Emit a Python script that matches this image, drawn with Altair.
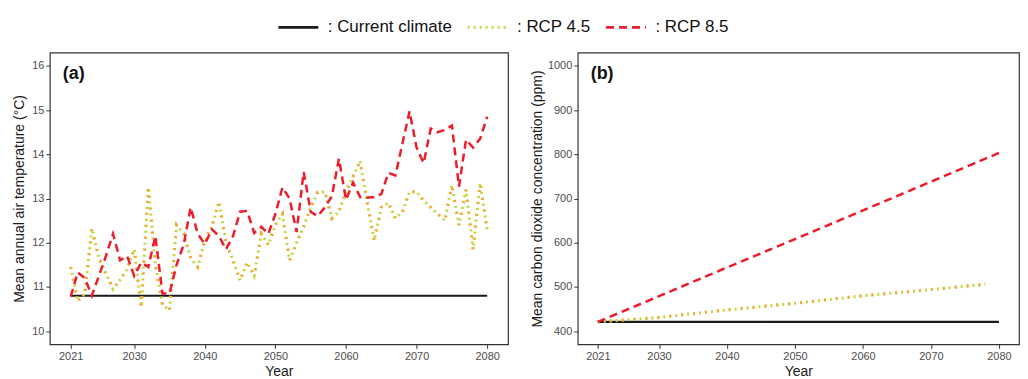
import altair as alt
import pandas as pd

# ---------------- data ----------------
years = list(range(2021, 2081))

rcp45_temp = [11.45, 10.68, 10.85, 12.32, 11.65, 11.30, 10.95, 11.16, 11.40, 11.85,
              10.55, 13.25, 11.50, 10.60, 10.47, 12.40, 12.20, 11.65, 11.45, 12.05,
              12.36, 12.92, 12.00, 11.60, 11.15, 11.55, 11.25, 12.20, 11.95, 12.40,
              12.65, 11.60, 12.00, 12.36, 12.80, 13.14, 13.15, 12.55, 12.70, 13.15,
              13.50, 13.85, 12.90, 12.05, 12.80, 12.90, 12.55, 12.70, 13.15, 13.15,
              12.95, 12.80, 12.65, 12.50, 13.30, 12.40, 13.20, 11.85, 13.35, 12.30]

rcp85_temp = [10.78, 11.33, 11.20, 10.80, 11.25, 11.70, 12.20, 11.60, 11.70, 11.25,
              11.55, 11.45, 12.15, 10.85, 10.85, 11.50, 11.95, 12.80, 12.20, 11.97,
              12.30, 12.15, 11.85, 12.15, 12.70, 12.72, 12.22, 12.36, 12.20, 12.65,
              13.25, 13.00, 12.24, 13.60, 12.70, 12.60, 12.80, 13.05, 13.90, 12.97,
              13.36, 13.03, 13.02, 13.03, 13.10, 13.58, 13.52, 14.25, 14.97, 14.15,
              13.80, 14.58, 14.50, 14.55, 14.65, 13.27, 14.33, 14.15, 14.35, 14.85]

current_years = [2021, 2080]
current_temp = [10.8, 10.8]

co2_current_years = [2021, 2080]
co2_current = [421, 421]
co2_rcp45_years = [2021, 2030, 2040, 2050, 2060, 2070, 2078]
co2_rcp45 = [421, 431, 448, 463, 480, 494, 506]
co2_rcp85_years = [2021, 2030, 2040, 2050, 2060, 2070, 2080]
co2_rcp85 = [421, 479, 544, 608, 673, 738, 803]

series = [": Current climate", ": RCP 4.5", ": RCP 8.5"]
colors = ["#1a1a1a", "#c2d63a", "#ec1c2c"]
dashes = [[1, 0], [2, 4], [8, 5]]

x_ticks = [2021, 2030, 2040, 2050, 2060, 2070, 2080]
temp_ticks = [10, 11, 12, 13, 14, 15, 16]
co2_ticks = [400, 500, 600, 700, 800, 900, 1000]

# ---------------- tables ----------------
temp_df = pd.concat([
    pd.DataFrame({"year": current_years, "value": current_temp, "series": series[0]}),
    pd.DataFrame({"year": years, "value": rcp45_temp, "series": series[1]}),
    pd.DataFrame({"year": years, "value": rcp85_temp, "series": series[2]}),
])
co2_df = pd.concat([
    pd.DataFrame({"year": co2_current_years, "value": co2_current, "series": series[0]}),
    pd.DataFrame({"year": co2_rcp45_years, "value": co2_rcp45, "series": series[1]}),
    pd.DataFrame({"year": co2_rcp85_years, "value": co2_rcp85, "series": series[2]}),
])

FONT = "Liberation Sans"

legend = alt.Legend(title=None, orient="none", direction="horizontal",
                    legendX=228, legendY=-47, symbolType="stroke",
                    symbolSize=1600, symbolStrokeWidth=2.6,
                    labelFontSize=17, labelFont=FONT, labelColor="#111",
                    columnPadding=10, labelOffset=8, padding=0)

color = alt.Color("series:N", scale=alt.Scale(domain=series, range=colors), legend=legend)
dash = alt.StrokeDash("series:N", scale=alt.Scale(domain=series, range=dashes), legend=legend)

xenc = alt.X("year:Q", scale=alt.Scale(domain=[2018.05, 2082.95], nice=False, zero=False),
             axis=alt.Axis(values=x_ticks, format="d", title="Year", titlePadding=3,
                           titleFontSize=14))


def panel(df, yscale_dom, yticks, ytitle, label, width, tpad):
    yenc = alt.Y("value:Q", scale=alt.Scale(domain=yscale_dom, nice=False, zero=False),
                 axis=alt.Axis(values=yticks, format="d", title=ytitle, titlePadding=tpad,
                               titleFontSize=14))
    base = alt.Chart(df)
    lines = []
    for i, s in enumerate(series):
        sw = 2.2 if i == 0 else (3 if i == 1 else 2.5)
        lines.append(
            base.transform_filter(alt.datum.series == s)
            .mark_line(strokeWidth=sw)
            .encode(x=xenc, y=yenc, color=color, strokeDash=dash)
        )
        if i == 1:
            lines.append(
                base.transform_filter(alt.datum.series == s)
                .mark_line(strokeWidth=3, color="#f3a83a", strokeDash=[2, 10])
                .encode(x=xenc, y=yenc)
            )
    txt = alt.Chart(pd.DataFrame({"t": [label]})).mark_text(
        font=FONT, fontSize=18, fontWeight="bold", align="left", baseline="top", color="#111"
    ).encode(text="t:N", x=alt.value(13), y=alt.value(13))
    return alt.layer(*lines, txt).properties(width=width, height=293)


pa = panel(temp_df, [9.7, 16.3], temp_ticks, "Mean annual air temperature (°C)", "(a)", 460, 5)
pb = panel(co2_df, [370, 1030], co2_ticks, "Mean carbon dioxide concentration (ppm)", "(b)", 443, 3)

chart = alt.hconcat(pa, pb, spacing=20).resolve_scale(
    x="independent", y="independent", color="shared", strokeDash="shared"
).properties(
    padding={"left": 4, "top": -3, "right": 0, "bottom": 0}
).configure_view(
    stroke="#333", strokeWidth=1.2
).configure_axis(
    grid=False, domain=False, labelFont=FONT, labelFontSize=11, labelColor="#4d4d4d",
    titleFont=FONT, titleColor="#1a1a1a", titleFontWeight="normal",
    tickColor="#333", tickSize=4, labelPadding=2
)

chart.save("out.html", embed_options={"renderer": "svg", "actions": False})
